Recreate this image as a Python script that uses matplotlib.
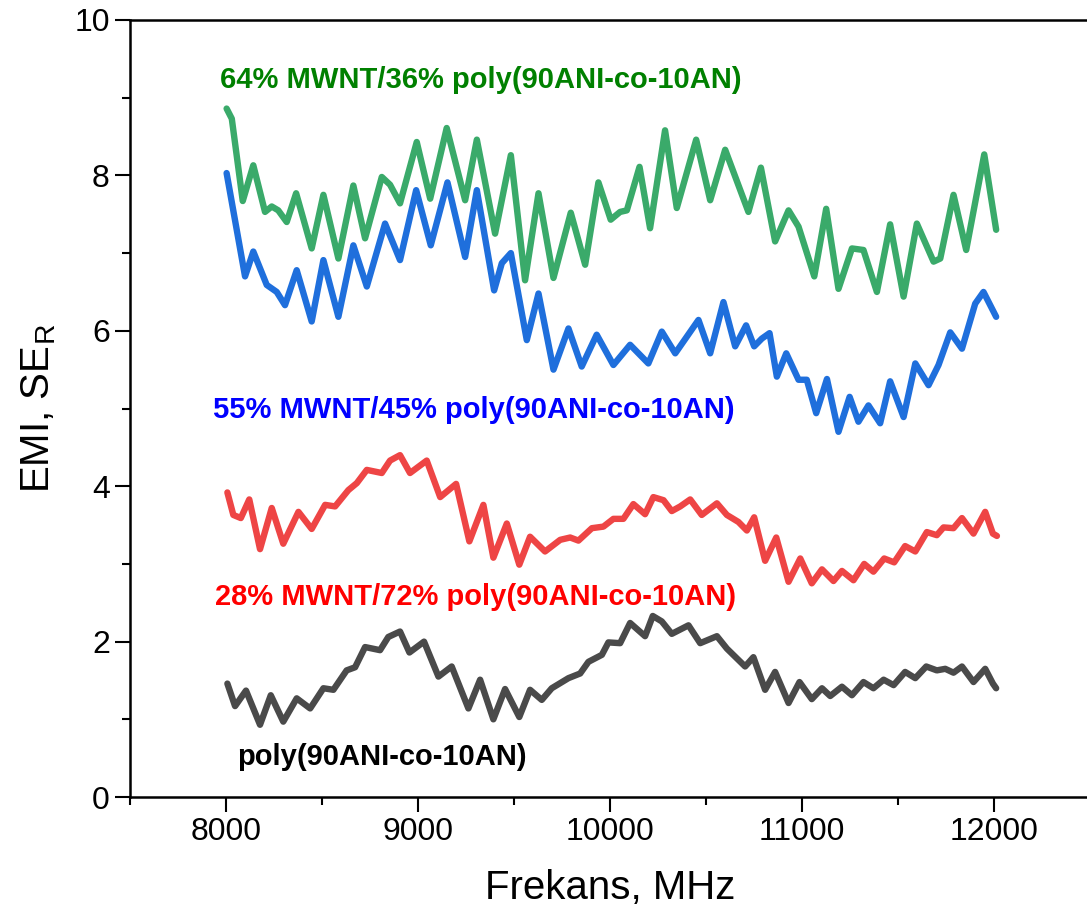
import matplotlib
matplotlib.use("Agg")
import matplotlib.pyplot as plt
from matplotlib.ticker import MultipleLocator

plt.rcParams['font.family'] = ['Liberation Sans', 'DejaVu Sans']

# 64% MWNT (green)
g_f = [8003, 8030, 8087, 8142, 8203, 8238, 8272, 8316, 8365, 8446,
       8507, 8585, 8663, 8724, 8811, 8854, 8906, 8993, 9063, 9149,
       9245, 9306, 9401, 9483, 9557, 9627, 9705, 9795, 9870, 9939,
       10003, 10052, 10087, 10153, 10208, 10286, 10347, 10448, 10521, 10599,
       10720, 10785, 10859, 10929, 10981, 11063, 11125, 11189, 11259, 11319,
       11389, 11458, 11528, 11597, 11684, 11719, 11788, 11854, 11948, 12010]
g_v = [8.86, 8.73, 7.67, 8.13, 7.53, 7.60, 7.55, 7.40, 7.77, 7.06,
       7.75, 6.93, 7.87, 7.19, 7.98, 7.88, 7.64, 8.43, 7.70, 8.61,
       7.68, 8.46, 7.25, 8.26, 6.65, 7.77, 6.68, 7.52, 6.85, 7.91,
       7.43, 7.53, 7.55, 8.11, 7.32, 8.58, 7.58, 8.46, 7.68, 8.33,
       7.53, 8.10, 7.15, 7.55, 7.34, 6.70, 7.57, 6.54, 7.06, 7.04,
       6.50, 7.37, 6.44, 7.38, 6.89, 6.93, 7.75, 7.04, 8.27, 7.30]

# 55% MWNT (blue)
b_f = [8003, 8099, 8142, 8212, 8264, 8307, 8368, 8446, 8507, 8585,
       8663, 8733, 8828, 8906, 8990, 9066, 9153, 9245, 9306, 9396,
       9436, 9483, 9566, 9627, 9705, 9783, 9852, 9930, 10017, 10104,
       10199, 10269, 10339, 10460, 10521, 10590, 10651, 10708, 10750, 10790,
       10830, 10868, 10917, 10981, 11024, 11073, 11129, 11189, 11247, 11293,
       11345, 11406, 11458, 11528, 11589, 11658, 11710, 11771, 11832, 11901,
       11944, 12010]
b_v = [8.03, 6.70, 7.02, 6.59, 6.50, 6.33, 6.78, 6.12, 6.91, 6.18,
       7.10, 6.57, 7.38, 6.91, 7.81, 7.10, 7.91, 6.95, 7.81, 6.52,
       6.87, 7.00, 5.88, 6.48, 5.50, 6.03, 5.54, 5.95, 5.56, 5.82,
       5.58, 5.99, 5.71, 6.14, 5.71, 6.37, 5.80, 6.07, 5.80, 5.90,
       5.97, 5.41, 5.71, 5.37, 5.37, 4.94, 5.38, 4.70, 5.15, 4.83,
       5.04, 4.81, 5.35, 4.89, 5.58, 5.30, 5.56, 5.98, 5.77, 6.35,
       6.50, 6.18]

# 28% MWNT (red)
r_f = [8007, 8038, 8077, 8121, 8177, 8238, 8298, 8377, 8446, 8516,
       8568, 8637, 8681, 8733, 8811, 8854, 8906, 8958, 9045, 9115,
       9198, 9267, 9340, 9392, 9462, 9527, 9583, 9661, 9740, 9792,
       9835, 9905, 9965, 10017, 10069, 10121, 10182, 10225, 10278, 10321,
       10365, 10417, 10477, 10556, 10608, 10668, 10712, 10750, 10807, 10865,
       10929, 10990, 11050, 11103, 11163, 11207, 11267, 11323, 11371, 11427,
       11479, 11536, 11589, 11649, 11701, 11736, 11788, 11832, 11892, 11953,
       11993, 12014]
r_v = [3.92, 3.63, 3.59, 3.83, 3.19, 3.72, 3.26, 3.67, 3.45, 3.76,
       3.74, 3.95, 4.04, 4.21, 4.17, 4.33, 4.40, 4.17, 4.33, 3.86,
       4.03, 3.29, 3.76, 3.08, 3.52, 2.99, 3.35, 3.16, 3.31, 3.34,
       3.30, 3.46, 3.48, 3.58, 3.58, 3.77, 3.64, 3.86, 3.82, 3.68,
       3.74, 3.83, 3.63, 3.78, 3.63, 3.54, 3.43, 3.60, 3.04, 3.34,
       2.77, 3.07, 2.75, 2.93, 2.78, 2.91, 2.79, 3.00, 2.90, 3.07,
       3.02, 3.23, 3.16, 3.41, 3.37, 3.47, 3.46, 3.59, 3.39, 3.67,
       3.39, 3.36]

# pure copolymer (black)
k_f = [8007, 8047, 8104, 8177, 8233, 8298, 8368, 8438, 8507, 8559,
       8628, 8672, 8724, 8802, 8845, 8906, 8955, 9031, 9106, 9175,
       9262, 9323, 9392, 9453, 9527, 9583, 9644, 9696, 9783, 9844,
       9887, 9957, 9991, 10052, 10104, 10182, 10222, 10269, 10321, 10408,
       10469, 10556, 10608, 10703, 10746, 10807, 10859, 10929, 10986, 11050,
       11103, 11146, 11207, 11259, 11319, 11371, 11424, 11476, 11536, 11589,
       11646, 11701, 11745, 11788, 11832, 11892, 11953, 11993, 12010]
k_v = [1.46, 1.17, 1.37, 0.93, 1.31, 0.97, 1.27, 1.14, 1.40, 1.38,
       1.63, 1.67, 1.93, 1.89, 2.06, 2.13, 1.86, 2.00, 1.55, 1.68,
       1.14, 1.51, 1.00, 1.39, 1.03, 1.38, 1.25, 1.40, 1.53, 1.59,
       1.74, 1.83, 1.99, 1.98, 2.24, 2.07, 2.33, 2.26, 2.10, 2.21,
       1.98, 2.07, 1.91, 1.68, 1.80, 1.38, 1.61, 1.21, 1.48, 1.26,
       1.40, 1.30, 1.42, 1.31, 1.48, 1.40, 1.51, 1.44, 1.61, 1.53,
       1.68, 1.63, 1.65, 1.60, 1.68, 1.48, 1.65, 1.46, 1.40]

labels = ['64% MWNT/36% poly(90ANI-co-10AN)',
          '55% MWNT/45% poly(90ANI-co-10AN)',
          '28% MWNT/72% poly(90ANI-co-10AN)',
          'poly(90ANI-co-10AN)']

fig = plt.figure(figsize=(10.87, 9.21), dpi=100)
ax = fig.add_axes([0.1196, 0.1346, 0.8834, 0.8437])

lw = 4.6
ax.plot(g_f, g_v, color='#3aaa6a', lw=lw, solid_joinstyle='round', solid_capstyle='round')
ax.plot(b_f, b_v, color='#1f6fdc', lw=lw, solid_joinstyle='round', solid_capstyle='round')
ax.plot(r_f, r_v, color='#ee4545', lw=lw, solid_joinstyle='round', solid_capstyle='round')
ax.plot(k_f, k_v, color='#4a4a4a', lw=lw, solid_joinstyle='round', solid_capstyle='round')

# series labels
ax.text(7969, 9.23, labels[0], color='#008000', fontsize=21, fontweight='bold', va='center')
ax.text(7932, 4.98, labels[1], color='#0000ff', fontsize=21, fontweight='bold', va='center')
ax.text(7943, 2.57, labels[2], color='#ff0000', fontsize=21, fontweight='bold', va='center')
ax.text(8057, 0.51, labels[3], color='black', fontsize=21, fontweight='bold', va='center')

ax.set_xlim(7500, 12500)
ax.set_ylim(0, 10)
ax.xaxis.set_major_locator(MultipleLocator(1000))
ax.xaxis.set_minor_locator(MultipleLocator(500))
ax.yaxis.set_major_locator(MultipleLocator(2))
ax.yaxis.set_minor_locator(MultipleLocator(1))
ax.tick_params(which='major', direction='out', length=11, width=1.5, labelsize=23)
ax.tick_params(which='minor', direction='out', length=6, width=1.5)
for s in ax.spines.values():
    s.set_linewidth(1.8)

ax.set_xlabel('Frekans, MHz', fontsize=29, labelpad=16)
ax.set_ylabel('EMI, SE$_{\\mathregular{R}}$', fontsize=29, labelpad=12)

fig.savefig('out.png', dpi=100)
